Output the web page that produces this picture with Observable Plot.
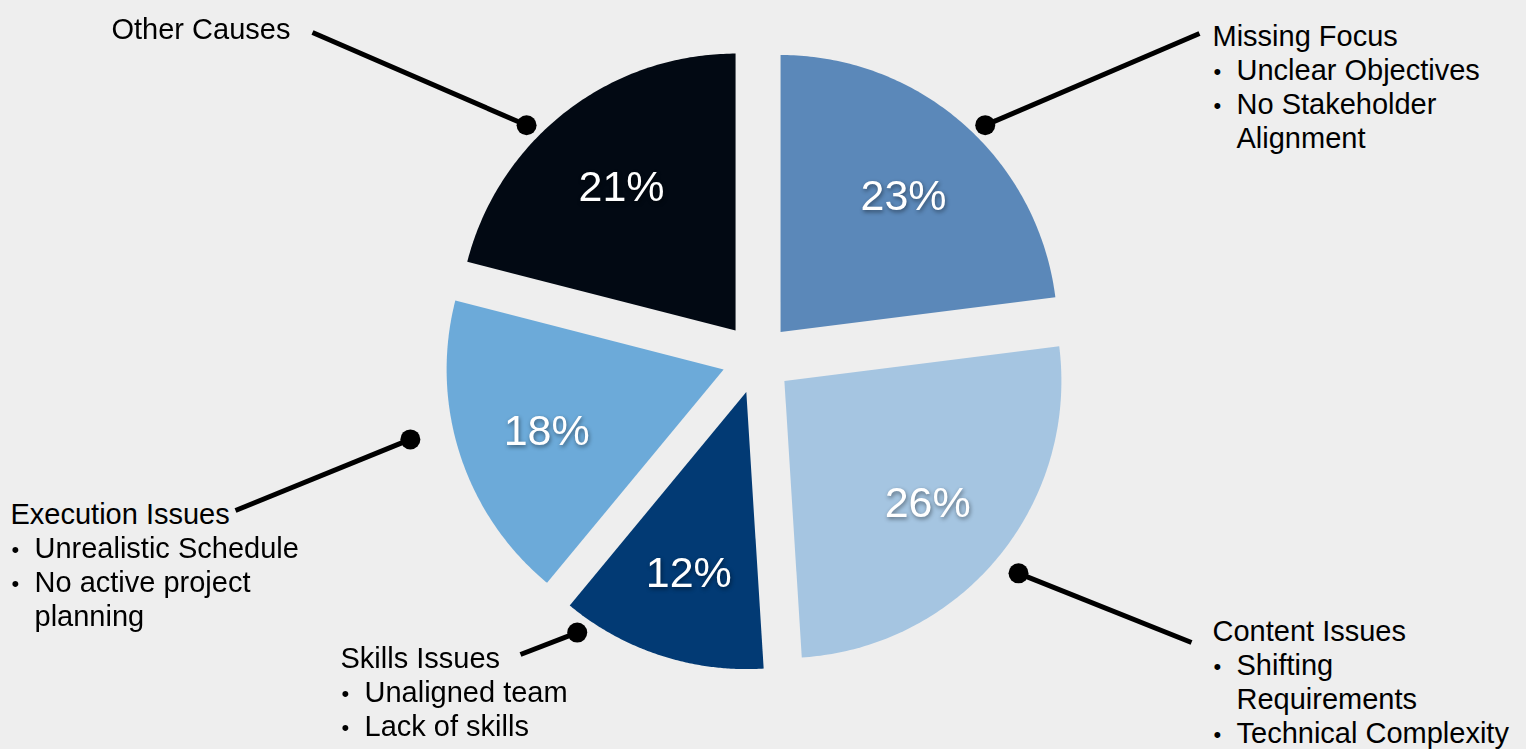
<!DOCTYPE html>
<html><head><meta charset="utf-8">
<script src="https://cdn.jsdelivr.net/npm/d3@7"></script>
<script src="https://cdn.jsdelivr.net/npm/@observablehq/plot@0.6"></script>
<style>
html,body{margin:0;padding:0;background:#eeeeee;overflow:hidden}
#chart svg{display:block}
g[aria-description="pct"]{filter:drop-shadow(1px 2px 2px rgba(0,0,0,0.45))}
</style></head><body><div id="chart"></div>
<script>
// ---- data ----
const categories = ["Missing Focus", "Content Issues", "Skills Issues", "Execution Issues", "Other Causes"];
const shares = [23, 26, 12, 18, 21];
const colors = ["#5b88b9", "#a5c5e1", "#023a74", "#6caad9", "#020913"];
const bulletItems = [
  [["Unclear Objectives"], ["No Stakeholder", "Alignment"]],
  [["Shifting", "Requirements"], ["Technical Complexity"]],
  [["Unaligned team"], ["Lack of skills"]],
  [["Unrealistic Schedule"], ["No active project", "planning"]],
  []
];

// ---- layout ----
const W = 1526, H = 749;
const cx = 756.7, cy = 358, R = 277, explode = 35.3, pctRadius = 186;
const dotAngle = [44.7, 129.4, 215.1, 257.4, 314.5];
const dotRadius = [291, 303, 294, 321, 293];
const labelPos = [[1212, 45], [1212, 640], [340, 667], [10, 523], [111, 38]];
const lineEnd = [[1199, 33], [1191, 642], [520, 654], [235, 510], [312, 32]];
const lineH = 34.3, bulletDx = 1, textDx = 24;
const font = "'Liberation Sans', Arial, Helvetica, sans-serif";

const arcs = d3.pie().sort(null).startAngle(0).endAngle(2 * Math.PI)(shares);
const pt = (ox, oy, a, r) => [ox + r * Math.sin(a), oy - r * Math.cos(a)];

const slicePts = [];
const pctRows = [];
const dots = [];
arcs.forEach((a, i) => {
  const mid = (a.startAngle + a.endAngle) / 2;
  const [ox, oy] = pt(cx, cy, mid, explode);
  slicePts.push({cat: categories[i], x: ox, y: oy});
  const n = 120;
  for (let k = 0; k <= n; k++) {
    const t = a.startAngle + (a.endAngle - a.startAngle) * k / n;
    const [x, y] = pt(ox, oy, t, R);
    slicePts.push({cat: categories[i], x, y});
  }
  const [px, py] = pt(ox, oy, mid, pctRadius);
  pctRows.push({x: px, y: py, text: shares[i] + "%"});
  const [dx, dy] = pt(ox, oy, dotAngle[i] * Math.PI / 180, dotRadius[i]);
  dots.push({x: dx, y: dy, x2: lineEnd[i][0], y2: lineEnd[i][1]});
});

const textRows = [];
const bulletRows = [];
categories.forEach((c, i) => {
  const [lx, ly] = labelPos[i];
  textRows.push({x: lx, y: ly, text: c});
  let line = 1;
  bulletItems[i].forEach(item => {
    bulletRows.push({x: lx + bulletDx, y: ly + line * lineH});
    item.forEach(t => {
      textRows.push({x: lx + textDx, y: ly + line * lineH, text: t});
      line++;
    });
  });
});

const plot = Plot.plot({
  width: W, height: H,
  margin: 0,
  x: {domain: [0, W], range: [0, W], axis: null},
  y: {domain: [0, H], range: [0, H], axis: null},
  color: {domain: categories, range: colors},
  style: {background: "#eeeeee", fontFamily: font},
  marks: [
    Plot.line(slicePts, {x: "x", y: "y", z: "cat", fill: "cat", stroke: "none"}),
    Plot.text(pctRows, {x: "x", y: "y", text: "text", fill: "white", fontSize: 43, lineAnchor: "middle", dy: 4, ariaDescription: "pct"}),
    Plot.link(dots, {x1: "x", y1: "y", x2: "x2", y2: "y2", stroke: "black", strokeWidth: 5, strokeLinecap: "butt"}),
    Plot.dot(dots, {x: "x", y: "y", r: 10, fill: "black", stroke: "none"}),
    Plot.text(textRows, {x: "x", y: "y", text: "text", fill: "black", fontSize: 29, textAnchor: "start", lineAnchor: "bottom"}),
    Plot.text(bulletRows, {x: "x", y: "y", text: () => "•", fill: "black", fontSize: 22, textAnchor: "start", lineAnchor: "bottom", dy: -1})
  ]
});
document.getElementById("chart").appendChild(plot);
</script></body></html>
